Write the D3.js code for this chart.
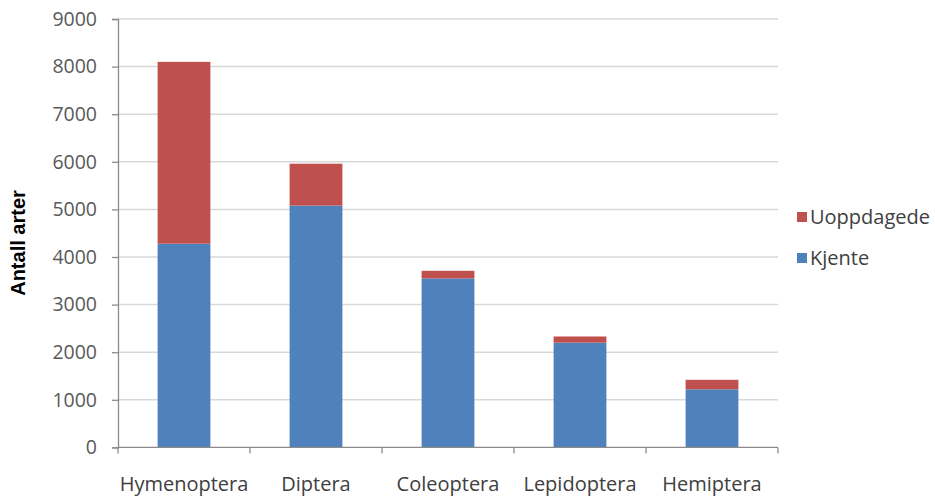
<!DOCTYPE html>
<html>
<head>
<meta charset="utf-8">
<script src="https://cdn.jsdelivr.net/npm/d3@7"></script>
<style>
  html, body { margin: 0; padding: 0; background: #fff; }
  svg { display: block; }
  text { font-family: "Open Sans", "Lato", sans-serif; }
</style>
</head>
<body>
<svg id="chart" width="935" height="497"></svg>
<script>
// Insect orders and species counts (known + undiscovered)
const categories = ["Hymenoptera", "Diptera", "Coleoptera", "Lepidoptera", "Hemiptera"];
const kjente = [4280, 5080, 3550, 2200, 1220];
const uoppdagede = [3820, 880, 160, 130, 200];
const seriesNames = ["Kjente", "Uoppdagede"];
const seriesColors = ["#4F81BD", "#C0504D"];
const yTicks = [0, 1000, 2000, 3000, 4000, 5000, 6000, 7000, 8000, 9000];

const svg = d3.select("#chart");
const margin = { left: 118, right: 160, top: 19 };
const W = 935;
const plotRight = W - margin.right + 3;
const plotBottom = 447.4;

const x = d3.scaleBand().domain(categories).range([margin.left, plotRight]).paddingInner(0.6).paddingOuter(0.3);
const xBound = d3.scaleBand().domain(categories).range([margin.left, plotRight]).padding(0);
const y = d3.scaleLinear().domain([0, 9000]).range([plotBottom, margin.top]);

// gridlines
svg.append("g").selectAll("line").data(yTicks.filter(d => d > 0)).join("line")
  .attr("x1", margin.left).attr("x2", plotRight)
  .attr("y1", d => y(d)).attr("y2", d => y(d))
  .attr("stroke", "#d9d9d9").attr("stroke-width", 1.5);

// stacked bars
const rows = categories.map((c, i) => ({ cat: c, Kjente: kjente[i], Uoppdagede: uoppdagede[i] }));
const stack = d3.stack().keys(seriesNames)(rows);
svg.append("g").selectAll("g").data(stack).join("g")
  .attr("fill", (d, i) => seriesColors[i])
  .selectAll("rect").data(d => d).join("rect")
  .attr("x", d => x(d.data.cat))
  .attr("width", x.bandwidth())
  .attr("y", d => y(d[1]))
  .attr("height", d => y(d[0]) - y(d[1]));

// y axis
const yAxis = svg.append("g").attr("transform", `translate(${margin.left},0)`)
  .call(d3.axisLeft(y).tickValues(yTicks).tickSize(6).tickPadding(15).tickFormat(d3.format("d")));
yAxis.select(".domain").attr("stroke", "#8c8c8c").attr("stroke-width", 1.3);
yAxis.selectAll(".tick line").attr("stroke", "#8c8c8c").attr("stroke-width", 1.3);
yAxis.selectAll(".tick text").attr("fill", "#595959").attr("font-size", 19.5)
  .style("font-family", "'Open Sans', sans-serif");

// x axis with ticks at band boundaries
const xg = svg.append("g");
xg.append("line").attr("x1", margin.left).attr("x2", plotRight)
  .attr("y1", plotBottom).attr("y2", plotBottom)
  .attr("stroke", "#8c8c8c").attr("stroke-width", 1.3);
const bounds = categories.map(c => xBound(c)).concat([plotRight]);
xg.selectAll("line.t").data(bounds).join("line").attr("class", "t")
  .attr("x1", d => d).attr("x2", d => d)
  .attr("y1", plotBottom).attr("y2", plotBottom + 6)
  .attr("stroke", "#8c8c8c").attr("stroke-width", 1.3);
xg.selectAll("text").data(categories).join("text")
  .attr("x", d => x(d) + x.bandwidth() / 2)
  .attr("y", 491)
  .attr("text-anchor", "middle")
  .attr("fill", "#404040")
  .attr("font-size", 20)
  .text(d => d);

// y axis title
svg.append("text")
  .attr("transform", "translate(25,243) rotate(-90)")
  .attr("text-anchor", "middle")
  .style("font-family", "'Liberation Sans', Arial, sans-serif")
  .attr("font-weight", "bold")
  .attr("font-size", 20)
  .attr("fill", "#000")
  .text("Antall arter");

// legend (undiscovered on top)
const legendItems = [
  { name: seriesNames[1], color: seriesColors[1], y: 217 },
  { name: seriesNames[0], color: seriesColors[0], y: 258 }
];
const lg = svg.append("g").selectAll("g").data(legendItems).join("g");
lg.append("rect").attr("x", 797).attr("y", d => d.y - 5).attr("width", 10).attr("height", 10)
  .attr("fill", d => d.color);
lg.append("text").attr("x", 810).attr("y", d => d.y + 7)
  .attr("font-size", 20).attr("fill", "#404040")
  .text(d => d.name);
</script>
</body>
</html>
